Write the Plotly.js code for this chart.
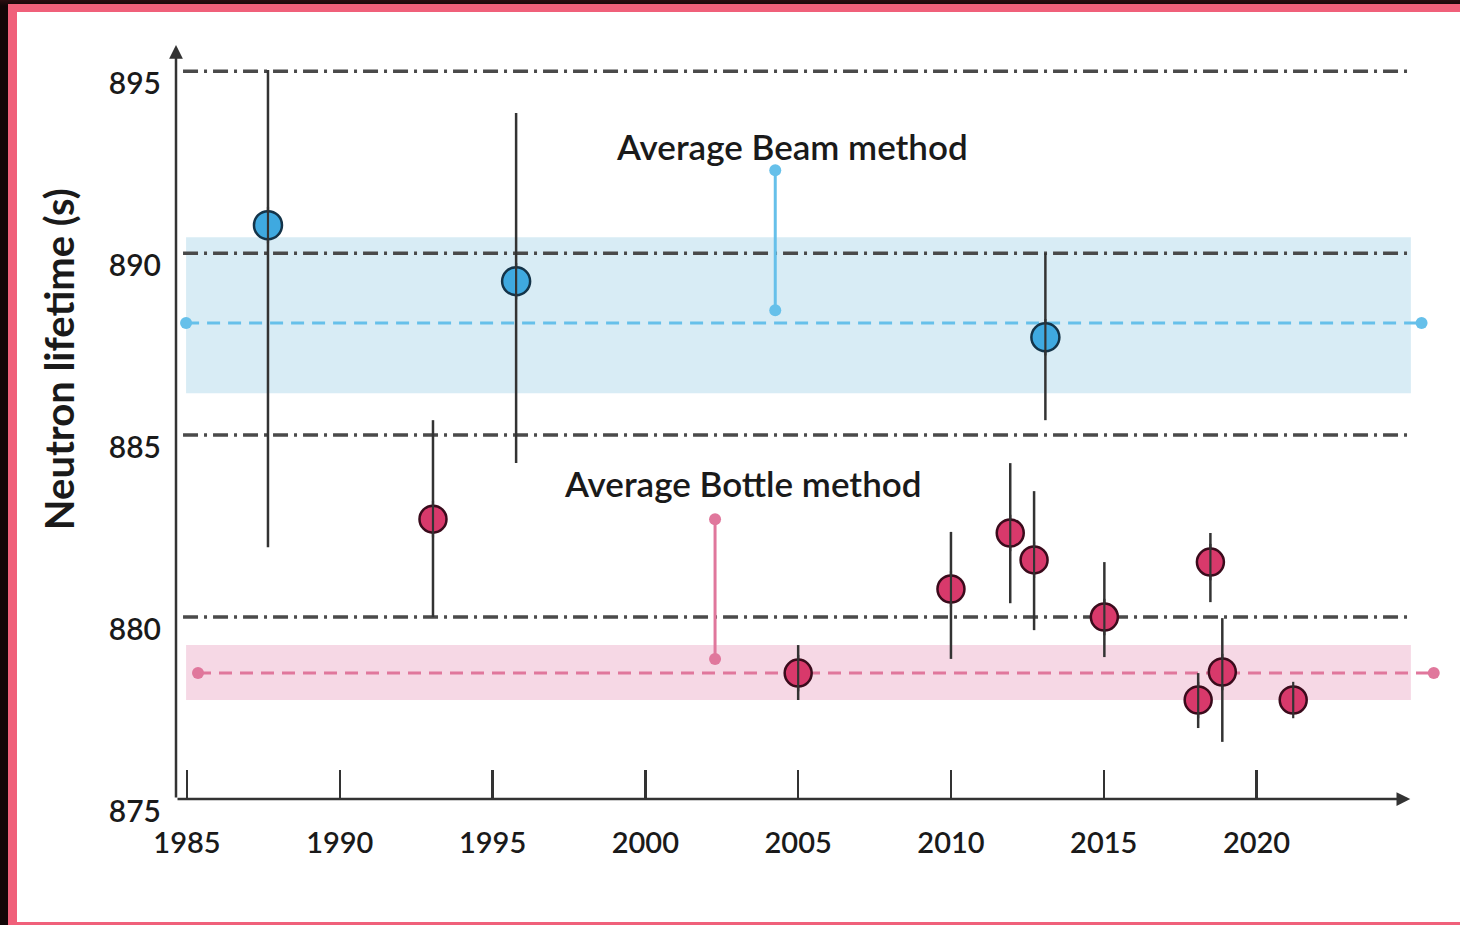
<!DOCTYPE html>
<html>
<head>
<meta charset="utf-8">
<script src="https://cdn.plot.ly/plotly-3.0.1.min.js"></script>
<style>
  html, body { margin: 0; padding: 0; background: #120607; }
  #frame { position: absolute; left: 0; top: 0; width: 1460px; height: 925px; overflow: hidden;
           background: linear-gradient(180deg, #2a0d10 0px, #120607 6px); }
  #rim { position: absolute; left: 8px; top: 4px; width: 1452px; height: 921px; background: #f0607a; }
  #sheet { position: absolute; left: 17px; top: 12px; width: 1443px; height: 910px; background: #ffffff; }
  #chart { position: absolute; left: 0; top: 0; width: 1460px; height: 925px; }
</style>
</head>
<body>
<div id="frame">
  <div id="rim"></div>
  <div id="sheet"></div>
  <div id="chart"></div>
</div>
<script>
// Beam-method measurements (year, lifetime in s, asymmetric uncertainty)
const beamYears = [1987.65, 1995.77, 2013.09];
const beamLife = [890.77, 889.23, 887.69];
const beamErrPlus = [4.26, 4.62, 2.31];
const beamErrMinus = [8.85, 5.00, 2.28];

// Bottle-method measurements
const bottleYears = [1993.05, 2005.0, 2010.0, 2011.94, 2012.72, 2015.02, 2018.09, 2018.49, 2018.88, 2021.2];
const bottleLife = [882.69, 878.46, 880.77, 882.31, 881.57, 880.0, 877.72, 881.51, 878.49, 877.72];
const bottleErrPlus = [2.72, 0.77, 1.57, 1.92, 1.89, 1.51, 0.74, 0.80, 1.48, 0.30];
const bottleErrMinus = [2.69, 0.74, 1.92, 1.93, 1.93, 1.10, 0.77, 1.10, 1.92, 0.30];

// Averages, their bands and the extent of the dashed average lines
const beamMean = 888.08;
const beamBand = [886.15, 890.44];
const beamLineYears = [1984.97, 2025.4];
const bottleMean = 878.46;
const bottleBand = [877.72, 879.23];
const bottleLineYears = [1985.36, 2025.8];
const bandYears = [1984.97, 2025.05];

// Vertical markers beside the two average labels
const beamMarkYear = 2004.25;
const beamMarkSpan = [888.43, 892.28];
const bottleMarkYear = 2002.28;
const bottleMarkSpan = [878.85, 882.69];

// Axes: the drawn axis arrow stops at axisEnd, the plotting range runs a little further
const xTicks = [1985, 1990, 1995, 2000, 2005, 2010, 2015, 2020];
const yTicks = [875, 880, 885, 890, 895];
const gridValues = [880, 885, 890, 895];
const xRange = [1984.64, 2026.2];
const axisEnd = 2025.03;
const gridStart = 1984.87;
const yRange = [875, 895.72];

const BLUE = '#3fa9e0', BLUE_EDGE = '#143449', BLUE_LINE = '#66c0ea';
const PINK = '#d8396b', PINK_EDGE = '#3a0b1c', PINK_LINE = '#e0779c';
const INK = '#333333';
const FONT = 'Lato, "Open Sans", sans-serif';

function errorBars(plus, minus) {
  return { type: 'data', symmetric: false, array: plus, arrayminus: minus,
           color: INK, thickness: 2.5, width: 0 };
}

const traces = [
  // dashed averages with end dots
  { x: beamLineYears, y: [beamMean, beamMean], mode: 'lines+markers',
    line: { color: BLUE_LINE, width: 3, dash: '13px,8px' },
    marker: { color: BLUE_LINE, size: 12 }, hoverinfo: 'skip' },
  { x: bottleLineYears, y: [bottleMean, bottleMean], mode: 'lines+markers',
    line: { color: PINK_LINE, width: 3, dash: '13px,8px' },
    marker: { color: PINK_LINE, size: 12 }, hoverinfo: 'skip' },
  // short vertical markers
  { x: [beamMarkYear, beamMarkYear], y: beamMarkSpan, mode: 'lines+markers',
    line: { color: BLUE_LINE, width: 3 }, marker: { color: BLUE_LINE, size: 12 }, hoverinfo: 'skip' },
  { x: [bottleMarkYear, bottleMarkYear], y: bottleMarkSpan, mode: 'lines+markers',
    line: { color: PINK_LINE, width: 3 }, marker: { color: PINK_LINE, size: 12 }, hoverinfo: 'skip' },
  // measurements
  { name: 'Beam', x: beamYears, y: beamLife, mode: 'markers', cliponaxis: false,
    error_y: errorBars(beamErrPlus, beamErrMinus),
    marker: { color: BLUE, size: 28, line: { color: BLUE_EDGE, width: 2.5 } } },
  { name: 'Bottle', x: bottleYears, y: bottleLife, mode: 'markers', cliponaxis: false,
    error_y: errorBars(bottleErrPlus, bottleErrMinus),
    marker: { color: PINK, size: 27, line: { color: PINK_EDGE, width: 2.5 } } },
  // error bar stroke continuing through each marker
  { x: beamYears.concat(bottleYears), y: beamLife.concat(bottleLife), mode: 'markers',
    cliponaxis: false, hoverinfo: 'skip',
    marker: { symbol: 'line-ns', size: 26, line: { color: INK, width: 2.2 } } }
];

const shapes = [
  { type: 'rect', xref: 'x', yref: 'y', layer: 'below', line: { width: 0 },
    x0: bandYears[0], x1: bandYears[1], y0: beamBand[0], y1: beamBand[1], fillcolor: '#d8ecf5' },
  { type: 'rect', xref: 'x', yref: 'y', layer: 'below', line: { width: 0 },
    x0: bandYears[0], x1: bandYears[1], y0: bottleBand[0], y1: bottleBand[1], fillcolor: '#f6d8e5' }
].concat(gridValues.map(v => ({
  // dash-dot reference lines at every labelled value
  type: 'line', xref: 'x', yref: 'y', layer: 'below',
  x0: gridStart, x1: axisEnd, y0: v, y1: v,
  line: { color: '#4a4a4a', width: 3.5, dash: '15px,6px,3px,6px' }
})));

const layout = {
  width: 1460, height: 925,
  margin: { l: 176, r: 14, t: 45, b: 126 },
  paper_bgcolor: 'rgba(0,0,0,0)',
  plot_bgcolor: 'rgba(0,0,0,0)',
  showlegend: false,
  font: { family: FONT, color: '#1a1a1a' },
  xaxis: {
    range: xRange, tickvals: xTicks, ticktext: xTicks.map(String),
    ticks: 'inside', ticklen: 29, tickwidth: 2.5, tickcolor: INK,
    showgrid: false, zeroline: false, showline: false,
    ticklabelstandoff: 24,
    tickfont: { family: FONT, size: 29, color: '#1a1a1a', weight: 600 }
  },
  yaxis: {
    range: yRange, tickvals: yTicks, ticktext: yTicks.map(String),
    ticks: '', showline: false, zeroline: false, showgrid: false,
    ticklabelstandoff: 14, ticklabelshift: 12,
    tickfont: { family: FONT, size: 30, color: '#1a1a1a', weight: 600 }
  },
  shapes: shapes,
  annotations: [
    // axis arrows
    { xref: 'x', yref: 'y', axref: 'x', ayref: 'y', x: xRange[0], y: yRange[1], ax: xRange[0], ay: yRange[0],
      text: '', showarrow: true, arrowhead: 2, arrowsize: 1.1, arrowwidth: 2.5, arrowcolor: INK },
    { xref: 'x', yref: 'y', axref: 'x', ayref: 'y', x: axisEnd, y: yRange[0], ax: xRange[0], ay: yRange[0],
      text: '', showarrow: true, arrowhead: 2, arrowsize: 1.1, arrowwidth: 2.5, arrowcolor: INK },
    // labels
    { xref: 'x', yref: 'y', x: beamMarkYear + 0.55, y: 892.94, text: 'Average Beam method', showarrow: false,
      font: { family: FONT, size: 35, color: '#1a1a1a', weight: 600 } },
    { xref: 'x', yref: 'y', x: bottleMarkYear + 0.9, y: 883.68, text: 'Average Bottle method', showarrow: false,
      font: { family: FONT, size: 35, color: '#1a1a1a', weight: 600 } },
    { xref: 'paper', yref: 'y', x: -0.113, y: 887.1, text: 'Neutron lifetime (s)', showarrow: false,
      textangle: -90, font: { family: FONT, size: 40, color: '#1a1a1a', weight: 700 } }
  ]
};

Plotly.newPlot('chart', traces, layout, { displayModeBar: false, staticPlot: true });
</script>
</body>
</html>
